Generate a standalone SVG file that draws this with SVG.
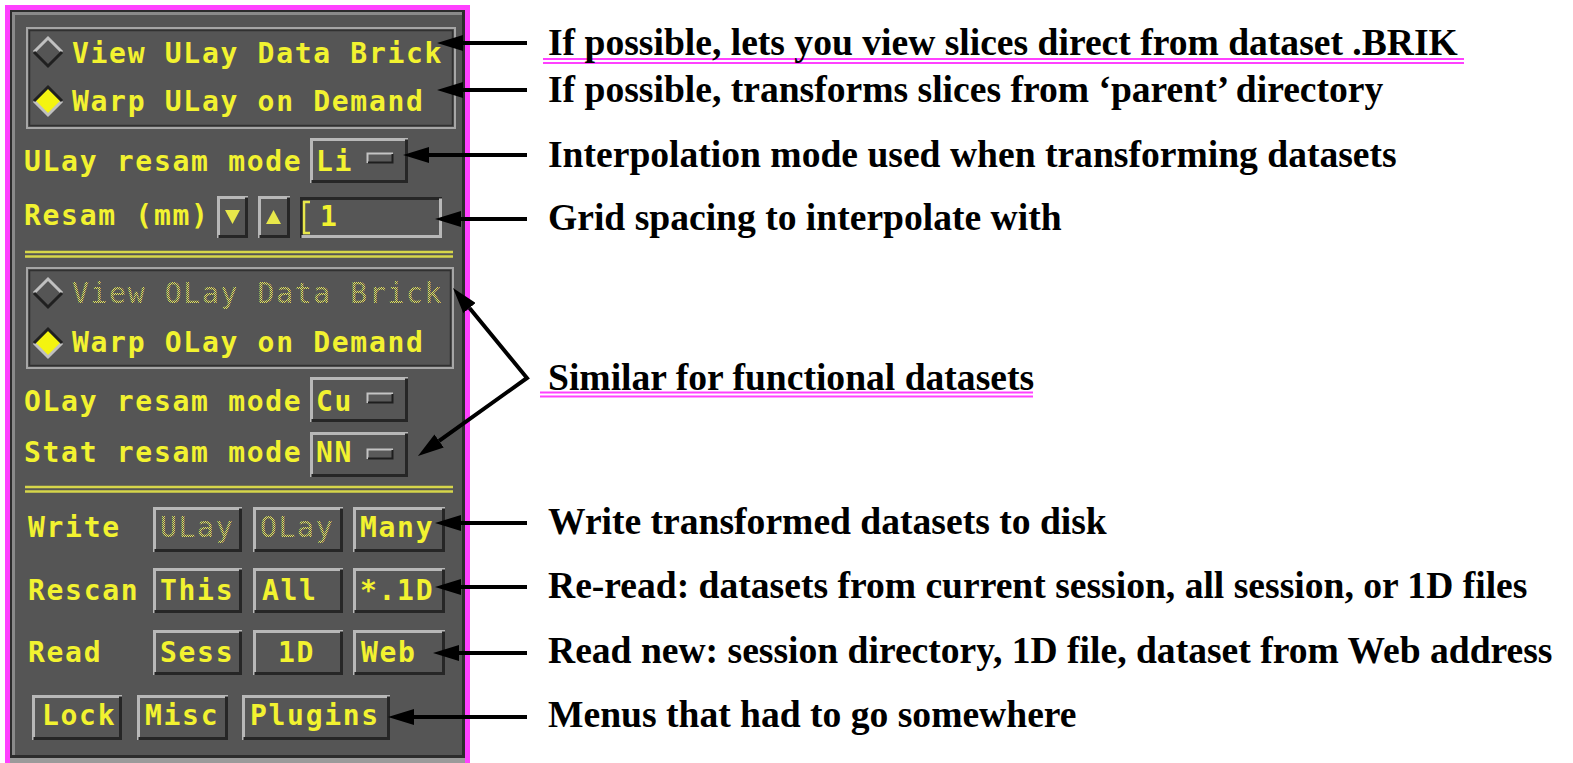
<svg xmlns="http://www.w3.org/2000/svg" width="1573" height="763" viewBox="0 0 1573 763">
  <style>
    .pt { font-family: "DejaVu Sans Mono", "Liberation Mono", monospace; font-weight: bold; font-size: 28px; letter-spacing: 1.7px; fill: #f2f230; }
    .dim { font-weight: normal; fill: url(#stip); }
    .lbl { font-family: "Liberation Serif", "Times New Roman", serif; font-weight: bold; font-size: 37.6px; fill: #000; }
    .btn { fill: #565656; }
    .hi { fill: none; stroke: #b8b8b8; stroke-width: 3; }
    .lo { fill: none; stroke: #262626; stroke-width: 3; }
    .frm { fill: none; stroke: #a6a6a6; stroke-width: 2; }
    .frmd { fill: none; stroke: #303030; stroke-width: 1.5; }
    .sep { stroke: #d6d64a; stroke-width: 2.5; }
    .arr { fill: none; stroke: #000; stroke-width: 4; }
    .ul { stroke: #ff40ff; stroke-width: 2; }
  </style>
  <defs>
    <pattern id="stip" width="2" height="2" patternUnits="userSpaceOnUse">
      <rect width="1" height="1" fill="#e6e65a"/>
      <rect x="1" y="1" width="1" height="1" fill="#e6e65a"/>
    </pattern>
    <marker id="ah" markerWidth="26" markerHeight="16" refX="0" refY="8" orient="auto-start-reverse" markerUnits="userSpaceOnUse">
      <path d="M0,0 L26,8 L0,16 Z" fill="#000"/>
    </marker>
  </defs>

  <rect width="1573" height="763" fill="#fff"/>

  <!-- window frame -->
  <g id="frame">
    <rect x="5" y="5" width="465" height="758" fill="#ff40ff"/>
    <rect x="10" y="10" width="455" height="753" fill="#9a9a9a"/>
    <rect x="10" y="10" width="455" height="748" fill="#2c2c2c"/>
    <rect x="12" y="12" width="450" height="743" fill="#8a8a8a"/>
    <rect x="15" y="15" width="447" height="740" fill="#555"/>
  </g>

  <!-- underlay radio box -->
  <g id="ulay-box">
    <rect x="27" y="28" width="428" height="100" class="frm"/>
    <rect x="29.5" y="30.5" width="423" height="95" class="frmd"/>
    <path d="M34,52 L48,38 L62,52" fill="none" stroke="#c0c0c0" stroke-width="3"/>
    <path d="M34,52 L48,66 L62,52" fill="none" stroke="#202020" stroke-width="3"/>
    <text class="pt" x="72" y="63">View ULay Data Brick</text>
    <path d="M34,101 L48,87 L62,101 L48,115 Z" fill="#f4f410"/>
    <path d="M34,101 L48,115 L62,101" fill="none" stroke="#c0c0c0" stroke-width="3"/>
    <path d="M34,101 L48,87 L62,101" fill="none" stroke="#202020" stroke-width="3"/>
    <text class="pt" x="72" y="111">Warp ULay on Demand</text>
  </g>

  <!-- underlay resampling mode -->
  <g id="ulay-mode">
    <text class="pt" x="24" y="171">ULay resam mode</text>
    <rect x="310" y="138" width="98" height="45" class="btn"/>
    <path d="M311.5,183 V139.5 H408" class="hi"/>
    <path d="M311.5,181.5 H406.5 V139.5" class="lo"/>
    <text class="pt" x="316" y="171">Li</text>
    <rect x="367" y="153" width="26" height="10" fill="#5a5a5a"/>
    <path d="M367.5,163 V153.5 H393" fill="none" stroke="#c4c4c4" stroke-width="2"/>
    <path d="M368,162.5 H392.5 V154" fill="none" stroke="#1e1e1e" stroke-width="2"/>
  </g>

  <!-- resampling grid size -->
  <g id="resam-mm">
    <text class="pt" x="24" y="225">Resam (mm)</text>
    <rect x="217" y="196" width="31" height="42" class="btn"/>
    <path d="M218.5,238 V197.5 H248" class="hi"/>
    <path d="M218.5,236.5 H246.5 V197.5" class="lo"/>
    <path d="M225,210 H240 L232.5,224 Z" fill="#e8e84a"/>
    <rect x="258" y="196" width="32" height="42" class="btn"/>
    <path d="M259.5,238 V197.5 H290" class="hi"/>
    <path d="M259.5,236.5 H288.5 V197.5" class="lo"/>
    <path d="M266,224 H281 L273.5,210 Z" fill="#e8e84a"/>
    <rect x="300" y="197" width="142" height="41" class="btn"/>
    <path d="M301.5,238 V198.5 H442" class="lo"/>
    <path d="M301.5,236.5 H440.5 V198.5" class="hi"/>
    <path d="M310,202 H304 V233 H310" fill="none" stroke="#e8e84a" stroke-width="2.5"/>
    <text class="pt" x="320" y="226">1</text>
  </g>

  <line x1="25" y1="252" x2="453" y2="252" class="sep"/>
  <line x1="25" y1="256.5" x2="453" y2="256.5" class="sep"/>

  <!-- overlay radio box -->
  <g id="olay-box">
    <rect x="27" y="268" width="426" height="100" class="frm"/>
    <rect x="29.5" y="270.5" width="421" height="95" class="frmd"/>
    <path d="M34,293 L48,279 L62,293" fill="none" stroke="#c0c0c0" stroke-width="3"/>
    <path d="M34,293 L48,307 L62,293" fill="none" stroke="#202020" stroke-width="3"/>
    <text class="pt dim" x="72" y="303">View OLay Data Brick</text>
    <path d="M34,343 L48,329 L62,343 L48,357 Z" fill="#f4f410"/>
    <path d="M34,343 L48,357 L62,343" fill="none" stroke="#c0c0c0" stroke-width="3"/>
    <path d="M34,343 L48,329 L62,343" fill="none" stroke="#202020" stroke-width="3"/>
    <text class="pt" x="72" y="352">Warp OLay on Demand</text>
  </g>

  <!-- overlay and threshold resampling modes -->
  <g id="olay-mode">
    <text class="pt" x="24" y="411">OLay resam mode</text>
    <rect x="310" y="377" width="98" height="45" class="btn"/>
    <path d="M311.5,422 V378.5 H408" class="hi"/>
    <path d="M311.5,420.5 H406.5 V378.5" class="lo"/>
    <text class="pt" x="316" y="411">Cu</text>
    <rect x="367" y="393" width="26" height="10" fill="#5a5a5a"/>
    <path d="M367.5,403 V393.5 H393" fill="none" stroke="#c4c4c4" stroke-width="2"/>
    <path d="M368,402.5 H392.5 V394" fill="none" stroke="#1e1e1e" stroke-width="2"/>
  </g>
  <g id="stat-mode">
    <text class="pt" x="24" y="462">Stat resam mode</text>
    <rect x="310" y="432" width="98" height="45" class="btn"/>
    <path d="M311.5,477 V433.5 H408" class="hi"/>
    <path d="M311.5,475.5 H406.5 V433.5" class="lo"/>
    <text class="pt" x="316" y="462">NN</text>
    <rect x="367" y="449" width="26" height="10" fill="#5a5a5a"/>
    <path d="M367.5,459 V449.5 H393" fill="none" stroke="#c4c4c4" stroke-width="2"/>
    <path d="M368,458.5 H392.5 V450" fill="none" stroke="#1e1e1e" stroke-width="2"/>
  </g>

  <line x1="25" y1="487" x2="453" y2="487" class="sep"/>
  <line x1="25" y1="491.5" x2="453" y2="491.5" class="sep"/>

  <!-- write row -->
  <g id="write-row">
    <text class="pt" x="28" y="537">Write</text>
    <rect x="153" y="507" width="89" height="45" class="btn"/>
    <path d="M154.5,552 V508.5 H242" class="hi"/>
    <path d="M154.5,550.5 H240.5 V508.5" class="lo"/>
    <text class="pt dim" x="160" y="537">ULay</text>
    <rect x="253" y="507" width="90" height="45" class="btn"/>
    <path d="M254.5,552 V508.5 H343" class="hi"/>
    <path d="M254.5,550.5 H341.5 V508.5" class="lo"/>
    <text class="pt dim" x="260" y="537">OLay</text>
    <rect x="353" y="507" width="92" height="45" class="btn"/>
    <path d="M354.5,552 V508.5 H445" class="hi"/>
    <path d="M354.5,550.5 H443.5 V508.5" class="lo"/>
    <text class="pt" x="360" y="537">Many</text>
  </g>

  <!-- rescan row -->
  <g id="rescan-row">
    <text class="pt" x="28" y="600">Rescan</text>
    <rect x="153" y="568" width="89" height="45" class="btn"/>
    <path d="M154.5,613 V569.5 H242" class="hi"/>
    <path d="M154.5,611.5 H240.5 V569.5" class="lo"/>
    <text class="pt" x="160" y="600">This</text>
    <rect x="253" y="568" width="90" height="45" class="btn"/>
    <path d="M254.5,613 V569.5 H343" class="hi"/>
    <path d="M254.5,611.5 H341.5 V569.5" class="lo"/>
    <text class="pt" x="262" y="600">All</text>
    <rect x="353" y="568" width="92" height="45" class="btn"/>
    <path d="M354.5,613 V569.5 H445" class="hi"/>
    <path d="M354.5,611.5 H443.5 V569.5" class="lo"/>
    <text class="pt" x="360" y="600">*.1D</text>
  </g>

  <!-- read row -->
  <g id="read-row">
    <text class="pt" x="28" y="662">Read</text>
    <rect x="153" y="630" width="89" height="45" class="btn"/>
    <path d="M154.5,675 V631.5 H242" class="hi"/>
    <path d="M154.5,673.5 H240.5 V631.5" class="lo"/>
    <text class="pt" x="160" y="662">Sess</text>
    <rect x="253" y="630" width="90" height="45" class="btn"/>
    <path d="M254.5,675 V631.5 H343" class="hi"/>
    <path d="M254.5,673.5 H341.5 V631.5" class="lo"/>
    <text class="pt" x="278" y="662">1D</text>
    <rect x="353" y="630" width="92" height="45" class="btn"/>
    <path d="M354.5,675 V631.5 H445" class="hi"/>
    <path d="M354.5,673.5 H443.5 V631.5" class="lo"/>
    <text class="pt" x="361" y="662">Web</text>
  </g>

  <!-- menus row -->
  <g id="menu-row">
    <rect x="32" y="695" width="90" height="45" class="btn"/>
    <path d="M33.5,740 V696.5 H122" class="hi"/>
    <path d="M33.5,738.5 H120.5 V696.5" class="lo"/>
    <text class="pt" x="42" y="725">Lock</text>
    <rect x="137" y="695" width="91" height="45" class="btn"/>
    <path d="M138.5,740 V696.5 H228" class="hi"/>
    <path d="M138.5,738.5 H226.5 V696.5" class="lo"/>
    <text class="pt" x="145" y="725">Misc</text>
    <rect x="242" y="695" width="148" height="45" class="btn"/>
    <path d="M243.5,740 V696.5 H390" class="hi"/>
    <path d="M243.5,738.5 H388.5 V696.5" class="lo"/>
    <text class="pt" x="250" y="725">Plugins</text>
  </g>

  <!-- connectors -->
  <g id="connectors">
    <line x1="527" y1="43" x2="463" y2="43" class="arr" marker-end="url(#ah)"/>
    <line x1="527" y1="90" x2="463" y2="90" class="arr" marker-end="url(#ah)"/>
    <line x1="527" y1="155" x2="429" y2="155" class="arr" marker-end="url(#ah)"/>
    <line x1="527" y1="219" x2="461" y2="219" class="arr" marker-end="url(#ah)"/>
    <polyline points="469.5,308.1 527,378 439.1,440.9" class="arr" stroke-width="3" marker-start="url(#ah)" marker-end="url(#ah)"/>
    <line x1="527" y1="523" x2="461" y2="523" class="arr" marker-end="url(#ah)"/>
    <line x1="527" y1="587" x2="461" y2="587" class="arr" marker-end="url(#ah)"/>
    <line x1="527" y1="653" x2="459" y2="653" class="arr" marker-end="url(#ah)"/>
    <line x1="527" y1="717" x2="414" y2="717" class="arr" marker-end="url(#ah)"/>
  </g>

  <!-- annotations -->
  <g id="notes">
    <line x1="543" y1="59" x2="1464" y2="59" class="ul"/>
    <line x1="543" y1="63" x2="1464" y2="63" class="ul"/>
    <text class="lbl" x="548" y="55">If possible, lets you view slices direct from dataset .BRIK</text>
    <text class="lbl" x="548" y="102">If possible, transforms slices from ‘parent’ directory</text>
    <text class="lbl" x="548" y="167">Interpolation mode used when transforming datasets</text>
    <text class="lbl" x="548" y="230">Grid spacing to interpolate with</text>
    <line x1="540" y1="392.5" x2="1033" y2="392.5" class="ul"/>
    <line x1="540" y1="396.5" x2="1033" y2="396.5" class="ul"/>
    <text class="lbl" x="548" y="390">Similar for functional datasets</text>
    <text class="lbl" x="548" y="534">Write transformed datasets to disk</text>
    <text class="lbl" x="548" y="598">Re-read: datasets from current session, all session, or 1D files</text>
    <text class="lbl" x="548" y="663">Read new: session directory, 1D file, dataset from Web address</text>
    <text class="lbl" x="548" y="727">Menus that had to go somewhere</text>
  </g>
</svg>
